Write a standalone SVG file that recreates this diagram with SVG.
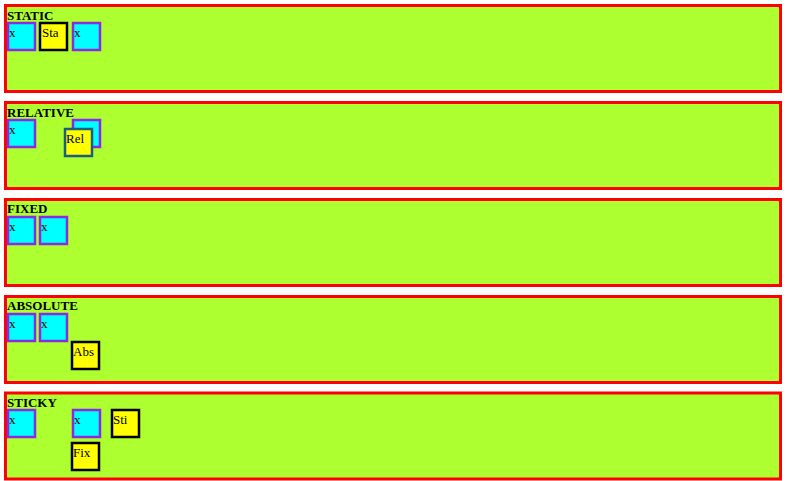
<svg xmlns="http://www.w3.org/2000/svg" width="786" height="481" viewBox="0 0 786 481">
<style>
.panel{fill:#adff2f;stroke:#ff0000;stroke-width:3}
.h{font-family:"Liberation Serif",serif;font-size:13px;font-weight:bold;fill:#000}
.c{fill:#00ffff;stroke:#8a2be2;stroke-width:2.5}
.y{fill:#ffff00;stroke:#000;stroke-width:2.5}
.r{fill:#ffff00;stroke:#1b5e7e;stroke-width:2.5}
.t{font-family:"Liberation Serif",serif;font-size:13px;fill:#000}
</style>
<rect width="786" height="481" fill="#fff"/>
<g id="static">
<rect class="panel" x="5.5" y="5.5" width="775" height="86"/>
<text class="h" x="7" y="20">STATIC</text>
<g id="s1"><rect class="c" x="8" y="23" width="27" height="27"/><text class="t" x="9" y="36.5">x</text></g>
<g id="s2"><rect class="y" x="40" y="23" width="27" height="27"/><text class="t" x="42" y="36.5">Sta</text></g>
<g id="s3"><rect class="c" x="73" y="23" width="27" height="27"/><text class="t" x="74" y="36.5">x</text></g>
</g>
<g id="relative">
<rect class="panel" x="5.5" y="102.5" width="775" height="86"/>
<text class="h" x="7" y="117">RELATIVE</text>
<g id="r1"><rect class="c" x="8" y="120" width="27" height="27"/><text class="t" x="9" y="133.5">x</text></g>
<g id="r3"><rect class="c" x="73" y="120" width="27" height="27"/></g>
<g id="r2"><rect class="r" x="65" y="129" width="27" height="27"/><text class="t" x="66" y="142.5">Rel</text></g>
</g>
<g id="fixed">
<rect class="panel" x="5.5" y="199.5" width="775" height="86"/>
<text class="h" x="7" y="213">FIXED</text>
<g id="f1"><rect class="c" x="8" y="217" width="27" height="27"/><text class="t" x="9" y="230.5">x</text></g>
<g id="f2"><rect class="c" x="40" y="217" width="27" height="27"/><text class="t" x="41" y="230.5">x</text></g>
</g>
<g id="absolute">
<rect class="panel" x="5.5" y="296.5" width="775" height="86"/>
<text class="h" x="7" y="310">ABSOLUTE</text>
<g id="a1"><rect class="c" x="8" y="314" width="27" height="27"/><text class="t" x="9" y="327.5">x</text></g>
<g id="a2"><rect class="c" x="40" y="314" width="27" height="27"/><text class="t" x="41" y="327.5">x</text></g>
<g id="a3"><rect class="y" x="72" y="342" width="27" height="27"/><text class="t" x="73" y="355.5">Abs</text></g>
</g>
<g id="sticky">
<rect class="panel" x="5.5" y="393" width="775" height="86"/>
<text class="h" x="7" y="407">STICKY</text>
<g id="k1"><rect class="c" x="8" y="410" width="27" height="27"/><text class="t" x="9" y="423.5">x</text></g>
<g id="k2"><rect class="c" x="73" y="410" width="27" height="27"/><text class="t" x="74" y="423.5">x</text></g>
<g id="k3"><rect class="y" x="112" y="410" width="27" height="27"/><text class="t" x="113" y="423.5">Sti</text></g>
<g id="k4"><rect class="y" x="72" y="443" width="27" height="27"/><text class="t" x="73" y="456.5">Fix</text></g>
</g>
<g id="connectors"/>
</svg>
